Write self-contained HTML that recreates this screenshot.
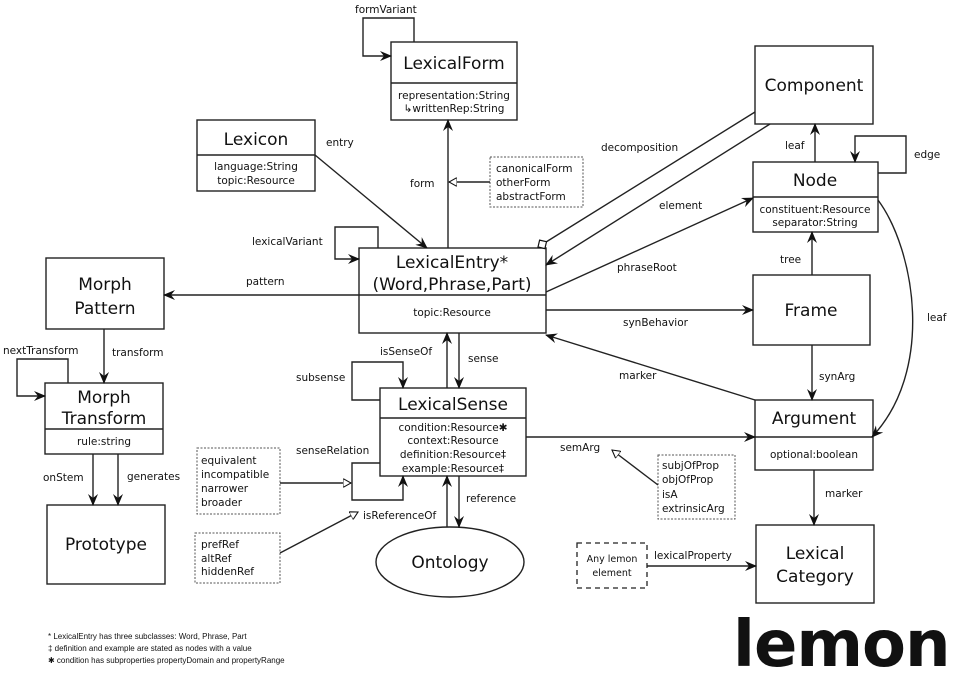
<!DOCTYPE html>
<html><head><meta charset="utf-8"><style>
html,body{margin:0;padding:0;background:#fff;}
svg{display:block;}
text{font-family:"DejaVu Sans","Liberation Sans",sans-serif;fill:#111;}
.t{font-size:17px;text-anchor:middle;}
.a{font-size:10.5px;text-anchor:middle;}
.l{font-size:10.5px;}
.d{font-size:10.5px;}
.f{font-family:"Liberation Sans",sans-serif;font-size:8px;}
</style></head><body>
<svg width="961" height="677" viewBox="0 0 961 677" xmlns="http://www.w3.org/2000/svg">
<defs>
<marker id="ar" viewBox="0 0 12 10" refX="11" refY="5" markerWidth="12" markerHeight="10" markerUnits="userSpaceOnUse" orient="auto"><path d="M0,0 L12,5 L0,10 L4,5 Z" fill="#111"/></marker>
<marker id="ho" viewBox="0 0 10 10" refX="9" refY="5" markerWidth="9" markerHeight="9" markerUnits="userSpaceOnUse" orient="auto"><path d="M0,0 L9,5 L0,10 Z" fill="#fff" stroke="#111" stroke-width="1.2"/></marker>
<marker id="dm" viewBox="0 0 12 12" refX="11" refY="6" markerWidth="12" markerHeight="12" markerUnits="userSpaceOnUse" orient="auto"><path d="M1,6 L6,1 L11,6 L6,11 Z" fill="#fff" stroke="#111" stroke-width="1.2"/></marker>
</defs>
<g fill="none" stroke="#222" stroke-width="1.4">
<!-- boxes -->
<rect x="391" y="42" width="126" height="78"/><line x1="391" y1="83" x2="517" y2="83"/>
<rect x="197" y="120" width="118" height="71"/><line x1="197" y1="155" x2="315" y2="155"/>
<rect x="359" y="248" width="187" height="85"/><line x1="359" y1="295" x2="546" y2="295"/>
<rect x="46" y="258" width="118" height="71"/>
<rect x="755" y="46" width="118" height="78"/>
<rect x="753" y="162" width="125" height="70"/><line x1="753" y1="197" x2="878" y2="197"/>
<rect x="753" y="275" width="117" height="70"/>
<rect x="755" y="400" width="118" height="70"/><line x1="755" y1="437" x2="873" y2="437"/>
<rect x="756" y="525" width="118" height="78"/>
<rect x="380" y="388" width="146" height="88"/><line x1="380" y1="418" x2="526" y2="418"/>
<rect x="45" y="383" width="118" height="71"/><line x1="45" y1="429" x2="163" y2="429"/>
<rect x="47" y="505" width="118" height="79"/>
<ellipse cx="450" cy="562" rx="74" ry="35"/>
<!-- dashed boxes -->
<g stroke-dasharray="2,1.5" stroke-width="1" stroke="#555">
<rect x="490" y="157" width="93" height="50"/>
<rect x="197" y="448" width="83" height="66"/>
<rect x="195" y="533" width="85" height="50"/>
<rect x="658" y="455" width="77" height="64"/>
</g>
<rect x="577" y="543" width="70" height="45" stroke-dasharray="5,4" stroke-width="1.3"/>
<!-- connectors -->
<polyline points="414,42 414,18 363,18 363,56 391,56" marker-end="url(#ar)"/>
<line x1="315" y1="155" x2="427" y2="248" marker-end="url(#ar)"/>
<polyline points="378,248 378,227 335,227 335,259 359,259" marker-end="url(#ar)"/>
<line x1="448" y1="248" x2="448" y2="120" marker-end="url(#ar)"/>
<line x1="490" y1="182" x2="449" y2="182" marker-end="url(#ho)"/>
<line x1="359" y1="295" x2="164" y2="295" marker-end="url(#ar)"/>
<line x1="815" y1="162" x2="815" y2="124" marker-end="url(#ar)"/>
<polyline points="878,173 906,173 906,136 855,136 855,162" marker-end="url(#ar)"/>
<line x1="755" y1="112" x2="538" y2="247" marker-end="url(#dm)"/>
<line x1="770" y1="124" x2="546" y2="265" marker-end="url(#ar)"/>
<line x1="546" y1="292" x2="753" y2="198" marker-end="url(#ar)"/>
<line x1="812" y1="275" x2="812" y2="232" marker-end="url(#ar)"/>
<line x1="546" y1="310" x2="753" y2="310" marker-end="url(#ar)"/>
<path d="M878,200 C915,250 935,370 872,437" marker-end="url(#ar)"/>
<line x1="812" y1="345" x2="812" y2="400" marker-end="url(#ar)"/>
<line x1="755" y1="400" x2="546" y2="335" marker-end="url(#ar)"/>
<line x1="814" y1="470" x2="814" y2="525" marker-end="url(#ar)"/>
<line x1="647" y1="566" x2="756" y2="566" marker-end="url(#ar)"/>
<line x1="526" y1="437" x2="755" y2="437" marker-end="url(#ar)"/>
<line x1="658" y1="485" x2="612" y2="450" marker-end="url(#ho)"/>
<line x1="447" y1="388" x2="447" y2="333" marker-end="url(#ar)"/>
<line x1="459" y1="333" x2="459" y2="388" marker-end="url(#ar)"/>
<polyline points="380,400 352,400 352,362 403,362 403,388" marker-end="url(#ar)"/>
<polyline points="380,463 352,463 352,500 403,500 403,476" marker-end="url(#ar)"/>
<line x1="280" y1="483" x2="351" y2="483" marker-end="url(#ho)"/>
<line x1="447" y1="527" x2="447" y2="476" marker-end="url(#ar)"/>
<line x1="459" y1="476" x2="459" y2="527" marker-end="url(#ar)"/>
<line x1="280" y1="553" x2="358" y2="512" marker-end="url(#ho)"/>
<line x1="104" y1="329" x2="104" y2="383" marker-end="url(#ar)"/>
<polyline points="68,383 68,359 17,359 17,396 45,396" marker-end="url(#ar)"/>
<line x1="93" y1="454" x2="93" y2="505" marker-end="url(#ar)"/>
<line x1="118" y1="454" x2="118" y2="505" marker-end="url(#ar)"/>
</g>
<!-- titles -->
<text class="t" x="454" y="69">LexicalForm</text>
<text class="a" x="454" y="99">representation:String</text>
<text class="a" x="454" y="112">↳writtenRep:String</text>
<text class="t" x="256" y="145">Lexicon</text>
<text class="a" x="256" y="170">language:String</text>
<text class="a" x="256" y="184">topic:Resource</text>
<text class="t" x="452" y="268">LexicalEntry*</text>
<text class="t" x="452" y="290">(Word,Phrase,Part)</text>
<text class="a" x="452" y="316">topic:Resource</text>
<text class="t" x="105" y="290">Morph</text>
<text class="t" x="105" y="314">Pattern</text>
<text class="t" x="814" y="91">Component</text>
<text class="t" x="815" y="186">Node</text>
<text class="a" x="815" y="213">constituent:Resource</text>
<text class="a" x="815" y="226">separator:String</text>
<text class="t" x="811" y="316">Frame</text>
<text class="t" x="814" y="424">Argument</text>
<text class="a" x="814" y="458">optional:boolean</text>
<text class="t" x="815" y="559">Lexical</text>
<text class="t" x="815" y="582">Category</text>
<text class="t" x="453" y="410">LexicalSense</text>
<text class="a" x="453" y="431">condition:Resource✱</text>
<text class="a" x="453" y="444">context:Resource</text>
<text class="a" x="453" y="458">definition:Resource‡</text>
<text class="a" x="453" y="472">example:Resource‡</text>
<text class="t" x="104" y="403">Morph</text>
<text class="t" x="104" y="424">Transform</text>
<text class="a" x="104" y="445">rule:string</text>
<text class="t" x="106" y="550">Prototype</text>
<text class="t" x="450" y="568">Ontology</text>
<!-- dashed box text -->
<text class="d" x="496" y="172">canonicalForm</text>
<text class="d" x="496" y="186">otherForm</text>
<text class="d" x="496" y="200">abstractForm</text>
<text class="d" x="201" y="464">equivalent</text>
<text class="d" x="201" y="478">incompatible</text>
<text class="d" x="201" y="492">narrower</text>
<text class="d" x="201" y="506">broader</text>
<text class="d" x="201" y="548">prefRef</text>
<text class="d" x="201" y="562">altRef</text>
<text class="d" x="201" y="575">hiddenRef</text>
<text class="d" x="662" y="469">subjOfProp</text>
<text class="d" x="662" y="483">objOfProp</text>
<text class="d" x="662" y="498">isA</text>
<text class="d" x="662" y="512">extrinsicArg</text>
<text class="a" x="612" y="562" style="font-size:9.5px">Any lemon</text>
<text class="a" x="612" y="576" style="font-size:9.5px">element</text>
<!-- labels -->
<text class="l" x="355" y="13">formVariant</text>
<text class="l" x="326" y="146">entry</text>
<text class="l" x="410" y="187">form</text>
<text class="l" x="252" y="245">lexicalVariant</text>
<text class="l" x="246" y="285">pattern</text>
<text class="l" x="601" y="151">decomposition</text>
<text class="l" x="659" y="209">element</text>
<text class="l" x="617" y="271">phraseRoot</text>
<text class="l" x="623" y="326">synBehavior</text>
<text class="l" x="785" y="149">leaf</text>
<text class="l" x="914" y="158">edge</text>
<text class="l" x="780" y="263">tree</text>
<text class="l" x="927" y="321">leaf</text>
<text class="l" x="819" y="380">synArg</text>
<text class="l" x="619" y="379">marker</text>
<text class="l" x="825" y="497">marker</text>
<text class="l" x="654" y="559">lexicalProperty</text>
<text class="l" x="560" y="451">semArg</text>
<text class="l" x="380" y="355">isSenseOf</text>
<text class="l" x="468" y="362">sense</text>
<text class="l" x="296" y="381">subsense</text>
<text class="l" x="296" y="454">senseRelation</text>
<text class="l" x="363" y="519">isReferenceOf</text>
<text class="l" x="466" y="502">reference</text>
<text class="l" x="3" y="354">nextTransform</text>
<text class="l" x="112" y="356">transform</text>
<text class="l" x="43" y="481">onStem</text>
<text class="l" x="127" y="480">generates</text>
<!-- footnotes -->
<text class="f" x="48" y="639">* LexicalEntry has three subclasses: Word, Phrase, Part</text>
<text class="f" x="48" y="651">‡ definition and example are stated as nodes with a value</text>
<text class="f" x="48" y="663">✱ condition has subproperties propertyDomain and propertyRange</text>
<text x="733" y="666" style="font-size:64px;font-weight:bold;font-family:'DejaVu Sans',sans-serif;letter-spacing:-1px">lemon</text>
</svg>
</body></html>
